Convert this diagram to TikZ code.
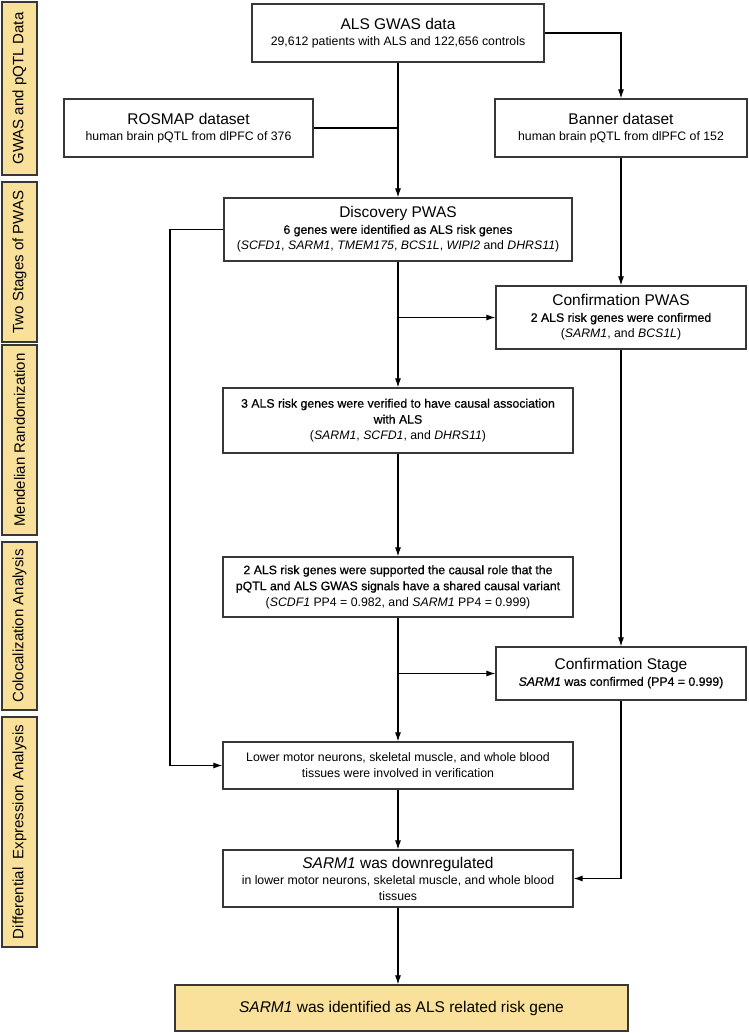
\documentclass[tikz,border=0pt]{standalone}
\usepackage{fontspec}
\setmainfont{Liberation Sans}
\newfontfamily\semifont[FakeBold=0.6]{Liberation Sans}
\usetikzlibrary{positioning}
\usetikzlibrary{arrows.meta}
\definecolor{tanfill}{RGB}{249,225,155}
\definecolor{edgegray}{RGB}{55,55,55}
\newcommand{\titlefont}{\fontsize{15.5}{18}\selectfont}
\newcommand{\subfont}{\fontsize{12.3}{16}\selectfont}
\newcommand{\sidefont}{\fontsize{15}{18}\selectfont}
\newcommand{\semi}[1]{{\semifont #1}}
\tikzset{
  stagebox/.style={draw=edgegray, line width=1.2pt, fill=tanfill, rotate=90, inner sep=0pt, minimum height=35, font=\sidefont},
  flowbox/.style={draw=edgegray, line width=1.2pt, fill=white, align=center, inner sep=0pt, font=\subfont},
  flowarrow/.style={draw=black, line width=1.1pt, -{Latex[length=9pt,width=6pt]}},
  flowline/.style={draw=black, line width=1.1pt}
}
\begin{document}
\begin{tikzpicture}[x=1pt,y=-1pt]
\useasboundingbox (0,0) rectangle (749,1033);
\node[stagebox, minimum width=173] (gwasstage) at (19.5,88.5) {GWAS and pQTL Data};
\node[stagebox, minimum width=160] (pwasstage) at (19.5,262) {Two Stages of PWAS};
\node[stagebox, minimum width=190] (mrstage) at (19.5,440) {Mendelian Randomization};
\node[stagebox, minimum width=168] (colocstage) at (19.5,626) {Colocalization Analysis};
\node[stagebox, minimum width=230] (degstage) at (19.5,832) {Differential~ Expression Analysis};

\node[flowbox, minimum width=292, minimum height=58] (gwas) at (398,33) {{\titlefont ALS GWAS data}\\29,612 patients with ALS and 122,656 controls};
\node[flowbox, minimum width=249, minimum height=58] (rosmap) at (188.5,128) {{\titlefont ROSMAP dataset}\\human brain pQTL from dlPFC of 376};
\node[flowbox, minimum width=252, minimum height=58] (banner) at (621,128) {{\titlefont Banner dataset}\\human brain pQTL from dlPFC of 152};
\node[flowbox, minimum width=348, minimum height=63] (disc) at (398,229.5) {{\titlefont Discovery PWAS}\\\semi{6 genes were identified as ALS risk genes}\\(\textit{SCFD1}, \textit{SARM1}, \textit{TMEM175}, \textit{BCS1L}, \textit{WIPI2} and \textit{DHRS11})};
\node[flowbox, minimum width=250, minimum height=63] (confpwas) at (621,317.5) {{\titlefont Confirmation PWAS}\\\semi{2 ALS risk genes were confirmed}\\(\textit{SARM1}, and \textit{BCS1L})};
\node[flowbox, minimum width=350, minimum height=65] (mr) at (398,420.5) {\semi{3 ALS risk genes were verified to have causal association}\\\semi{with ALS}\\(\textit{SARM1}, \textit{SCFD1}, and \textit{DHRS11})};
\node[flowbox, minimum width=350, minimum height=60] (coloc) at (398,587) {\semi{2 ALS risk genes were supported the causal role that the}\\\semi{pQTL and ALS GWAS signals have a shared causal variant}\\(\textit{SCDF1} PP4 = 0.982, and \textit{SARM1} PP4 = 0.999)};
\node[flowbox, minimum width=250, minimum height=53] (confstage) at (621,673.5) {{\titlefont Confirmation Stage}\\\semi{\textit{SARM1} was confirmed (PP4 = 0.999)}};
\node[flowbox, minimum width=350, minimum height=47] (lower) at (398,765.5) {Lower motor neurons, skeletal muscle, and whole blood\\tissues were involved in verification};
\node[flowbox, minimum width=350, minimum height=57] (down) at (398,878.5) {{\titlefont\textit{SARM1} was downregulated}\\in lower motor neurons, skeletal muscle, and whole blood\\tissues};
\node[flowbox, fill=tanfill, minimum width=453, minimum height=46] (final) at (401.5,1008) {{\titlefont\textit{SARM1} was identified as ALS related risk gene}};

\coordinate (leftrail) at (170,229.5);
\draw[flowarrow] (gwas.south) -- (disc.north);
\draw[flowline] (rosmap.east) -- (rosmap.east -| gwas.south);
\draw[flowarrow] (gwas.east) -| (banner.north);
\draw[flowarrow] (banner.south) -- (confpwas.north);
\draw[flowarrow] (disc.south) -- (mr.north);
\draw[flowarrow] (disc.south |- confpwas.west) -- (confpwas.west);
\draw[flowarrow] (disc.west) -- (leftrail) |- (lower.west);
\draw[flowarrow] (mr.south) -- (coloc.north);
\draw[flowarrow] (confpwas.south) -- (confstage.north);
\draw[flowarrow] (coloc.south) -- (lower.north);
\draw[flowarrow] (coloc.south |- confstage.west) -- (confstage.west);
\draw[flowarrow] (confstage.south) |- (down.east);
\draw[flowarrow] (lower.south) -- (down.north);
\draw[flowarrow] (down.south) -- (down.south |- final.north);
\end{tikzpicture}
\end{document}
